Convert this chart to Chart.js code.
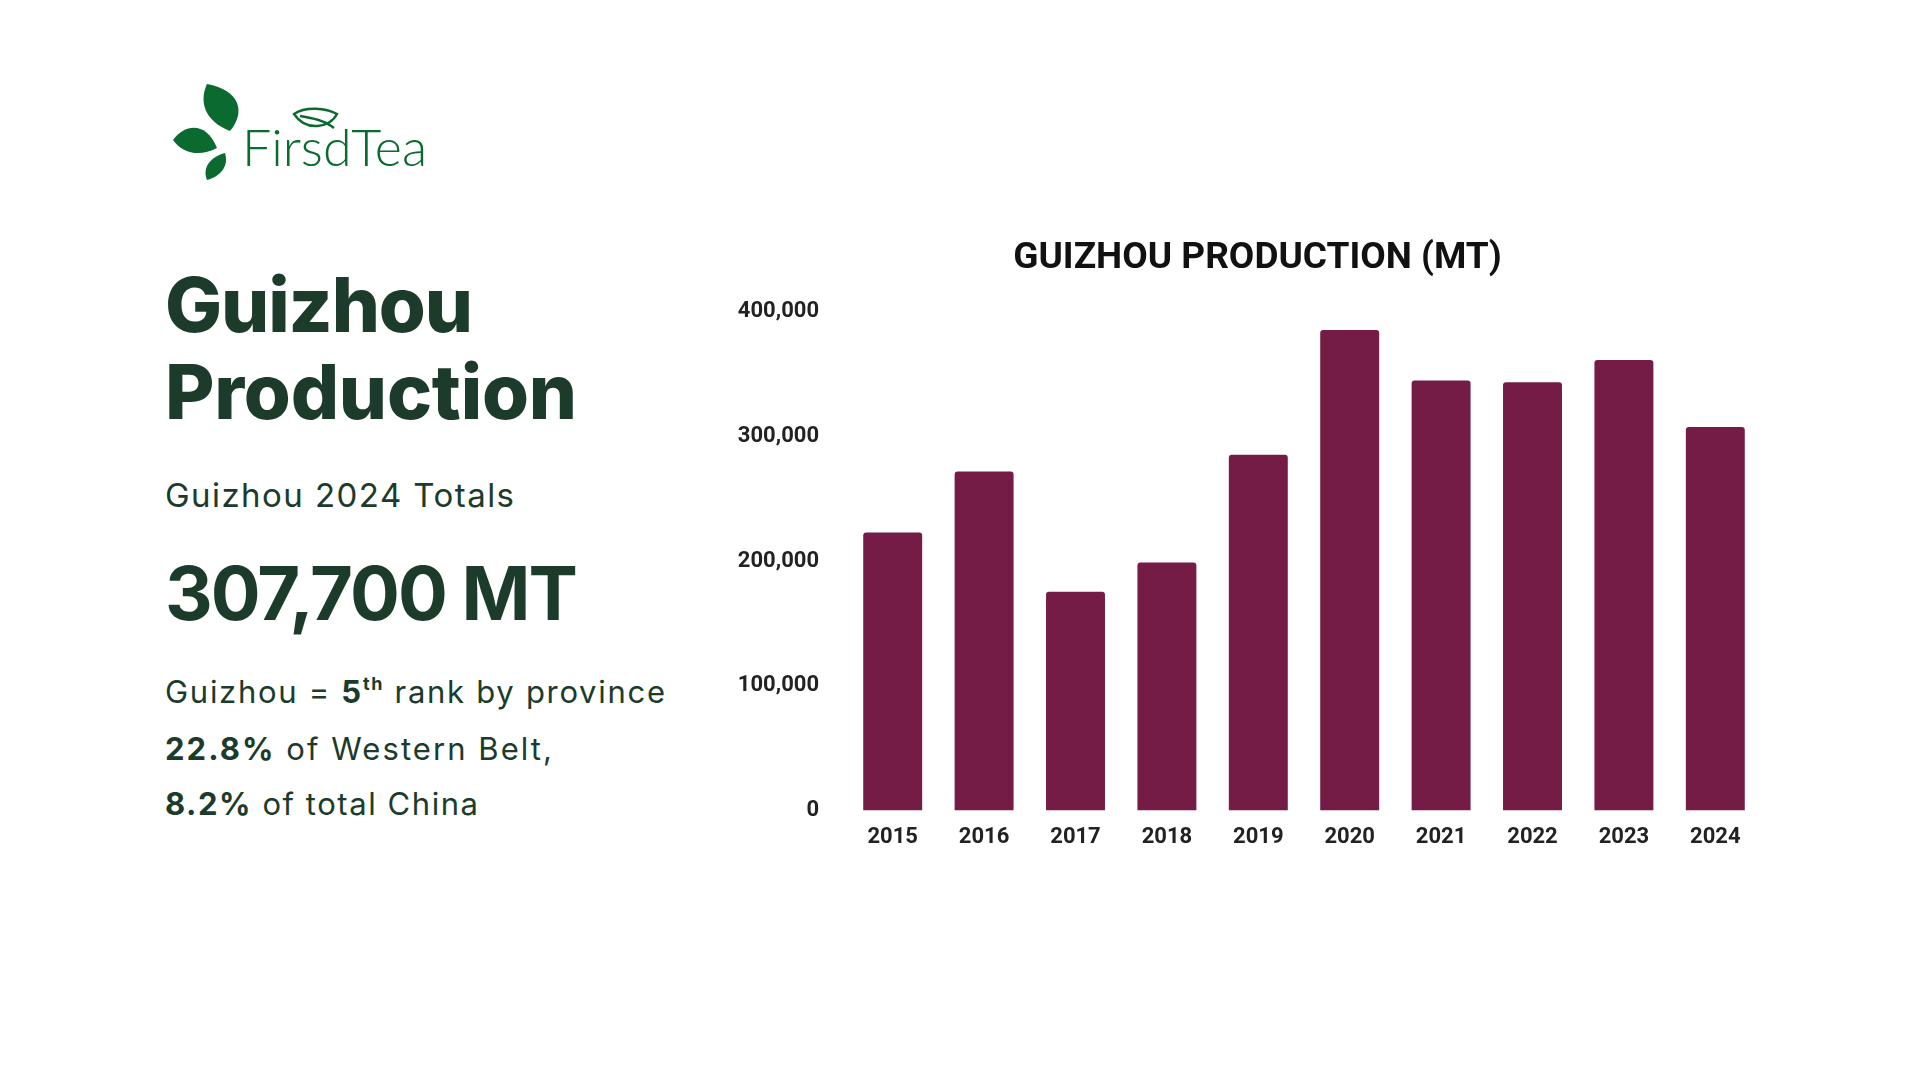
<!DOCTYPE html>
<html>
<head>
<meta charset="utf-8">
<script src="https://cdn.jsdelivr.net/npm/chart.js@4"></script>
<style>
  html, body { margin: 0; padding: 0; background: #fff; }
  body { width: 1920px; height: 1080px; position: relative; overflow: hidden; }
  #side { position: absolute; left: 0; top: 0; }
  #chartBox { position: absolute; left: 700px; top: 200px; width: 1115px; height: 700px; }
</style>
</head>
<body>

<!-- logo + left text block -->
<svg id="side" width="700" height="1080" xmlns="http://www.w3.org/2000/svg">
  <g fill="#0b6a2f">
    <path d="M230 131 C246 112 240 90 207 84 C199 101 204 121 230 131 Z"/>
    <path d="M173 140 C185 124 206 121 217 148 C200 157 183 154 173 140 Z"/>
    <path d="M225 153 C229 166 221 176 207 180 C202 168 210 157 225 153 Z"/>
  </g>
  <path d="M294 114 C306 106 326 108 337 114 C330 128 306 132 294 114 Z M300 116 C312 118 324 120 334 128"
        fill="none" stroke="#0b6a2f" stroke-width="2.4"/>
  <text x="242" y="166" font-family="Lato" font-weight="300" font-size="52" fill="#0b6a2f">FirsdTea</text>

  <g fill="#1c3b2b" font-family="Inter">
    <text x="165" y="332" font-size="76" font-weight="800" textLength="308">Guizhou</text>
    <text x="165" y="419" font-size="76" font-weight="800" textLength="412">Production</text>
    <text x="165" y="507" font-size="33" font-weight="400" textLength="349">Guizhou 2024 Totals</text>
    <text x="165" y="620" font-size="74" font-weight="700" textLength="413">307,700 MT</text>
    <text x="165" y="703" font-size="31" font-weight="400" textLength="500">Guizhou = <tspan font-weight="700">5</tspan><tspan font-weight="700" font-size="18" dy="-13">th</tspan><tspan dy="13"> rank by province</tspan></text>
    <text x="165" y="760" font-size="31" font-weight="400" textLength="387"><tspan font-weight="700">22.8%</tspan> of Western Belt,</text>
    <text x="165" y="815" font-size="31" font-weight="400" textLength="313"><tspan font-weight="700">8.2%</tspan> of total China</text>
  </g>
</svg>

<div id="chartBox"><canvas id="prodChart" width="1115" height="700"></canvas></div>

<script>
// Guizhou tea production, metric tonnes
var years = ['2015', '2016', '2017', '2018', '2019', '2020', '2021', '2022', '2023', '2024'];
var production = [223000, 272000, 175500, 199000, 285500, 385500, 345000, 343500, 361500, 307700];
var yTicks = [0, 100000, 200000, 300000, 400000];

var barColor = '#741c45';
var labelFont = { family: 'Roboto', size: 22, weight: 'bold' };

var ctx = document.getElementById('prodChart').getContext('2d');
var chart = new Chart(ctx, {
    type: 'bar',
    data: {
        labels: years,
        datasets: [{
            label: 'Production (MT)',
            data: production,
            backgroundColor: barColor,
            borderRadius: 3,
            barPercentage: 0.645,
            categoryPercentage: 1
        }]
    },
    options: {
        responsive: false,
        animation: false,
        layout: { padding: { left: 0, right: 0, top: 0, bottom: 35 } },
        plugins: {
            legend: { display: false },
            tooltip: { enabled: false },
            title: {
                display: true,
                text: 'GUIZHOU PRODUCTION (MT)',
                color: '#111',
                font: { family: 'Roboto', size: 37, weight: 'bold' },
                padding: { top: 37, bottom: 30.5 }
            }
        },
        scales: {
            x: {
                grid: { display: false, drawTicks: false },
                border: { display: false },
                ticks: { color: '#222', font: labelFont, padding: 14 }
            },
            y: {
                min: yTicks[0],
                max: yTicks[yTicks.length - 1],
                grid: { display: false, drawTicks: false },
                border: { display: false },
                ticks: {
                    stepSize: yTicks[1] - yTicks[0],
                    color: '#222',
                    font: labelFont,
                    padding: 28
                },
                afterFit: function(scale) { scale.width = 147; } // keep plot left edge fixed
            },
            // empty right axis, only a spacer so the title stays centred on the whole canvas
            yGap: {
                position: 'right',
                display: true,
                grid: { display: false, drawTicks: false },
                border: { display: false },
                ticks: { display: false },
                afterFit: function(scale) { scale.width = 54; }
            }
        }
    }
});
</script>
</body>
</html>
